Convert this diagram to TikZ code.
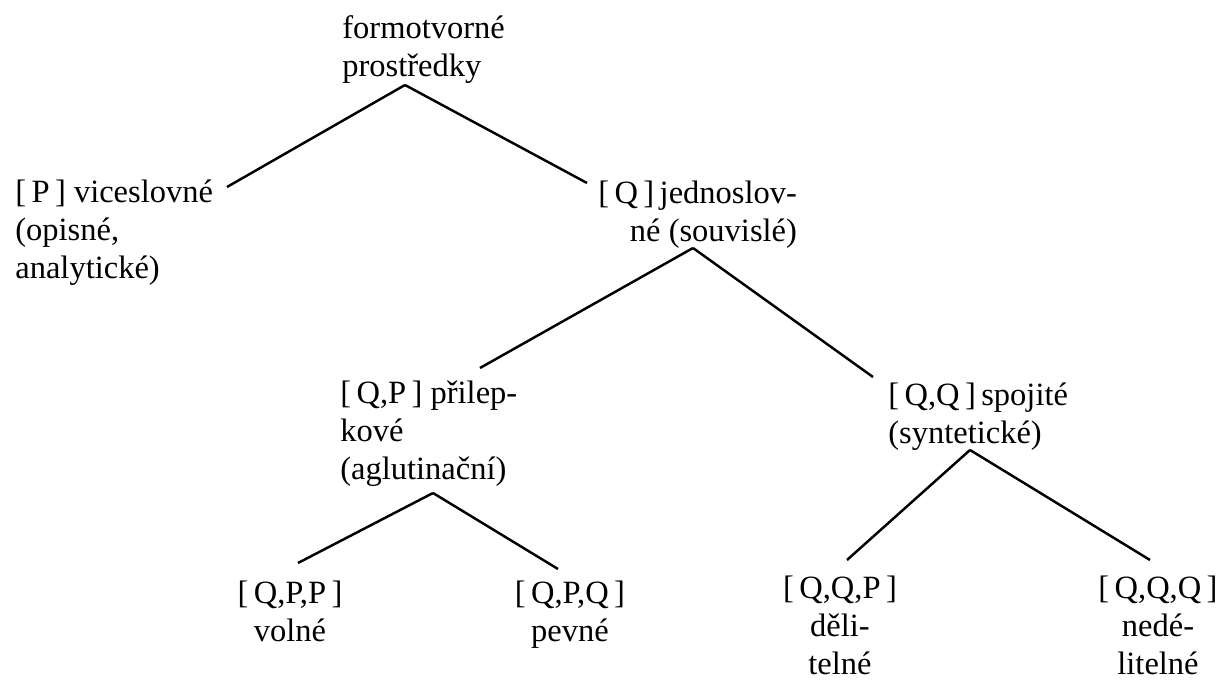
\documentclass[tikz,border=0pt]{standalone}
\usepackage{fontspec}
\setmainfont{Liberation Serif}
\usetikzlibrary{calc}
\tikzset{
	lbl/.style={anchor=north west,align=left,inner sep=0pt,font=\fontsize{18.5}{21.6}\selectfont},
	leaf/.style={lbl,anchor=north,align=center},
	edge/.style={line width=1.4pt}
}
\begin{document}
\begin{tikzpicture}[x=0.02cm,y=-0.02cm]
			\useasboundingbox (0,0) rectangle (1217,682);
			% labels
			\node[lbl] (root) at (342,15) {formotvorné\\prostředky};
			\node[lbl] (P) at (15,180) {[\,P\,] viceslovné\\(opisné,\\analytické)};
			\node[lbl,align=right] (Q) at (598,181) {[\,Q\,]\,jednoslov-\\né (souvislé)};
			\node[lbl] (QP) at (340,381) {[\,Q,P\,] přilep-\\kové\\(aglutinační)};
			\node[lbl] (QQ) at (888,383) {[\,Q,Q\,]\,spojité\\(syntetické)};
			\node[leaf] (QPP) at (290,581) {[\,Q,P,P\,]\\volné};
			\node[leaf] (QPQ) at (570,581) {[\,Q,P,Q\,]\\pevné};
			\node[leaf] (QQP) at (840,576) {[\,Q,Q,P\,]\\děli-\\telné};
			\node[leaf] (QQQ) at (1158,576) {[\,Q,Q,Q\,]\\nedé-\\litelné};
			% edges
			\draw[edge] ($(root.north west)+(63,70)$) -- ($(P.north west)+(212,7)$);
			\draw[edge] ($(root.north west)+(63,70)$) -- ($(Q.north west)+(-11,2)$);
			\draw[edge] ($(Q.north west)+(95,67)$) -- ($(QP.north west)+(140,-13)$);
			\draw[edge] ($(Q.north west)+(95,67)$) -- ($(QQ.north west)+(-15,-6)$);
			\draw[edge] ($(QP.north west)+(93,112)$) -- ($(QPP.north)+(8,-18)$);
			\draw[edge] ($(QP.north west)+(93,112)$) -- ($(QPQ.north)+(-12,-12)$);
			\draw[edge] ($(QQ.north west)+(82,67)$) -- ($(QQP.north)+(7,-16)$);
			\draw[edge] ($(QQ.north west)+(82,67)$) -- ($(QQQ.north)+(-8,-16)$);
	\end{tikzpicture}
\end{document}
